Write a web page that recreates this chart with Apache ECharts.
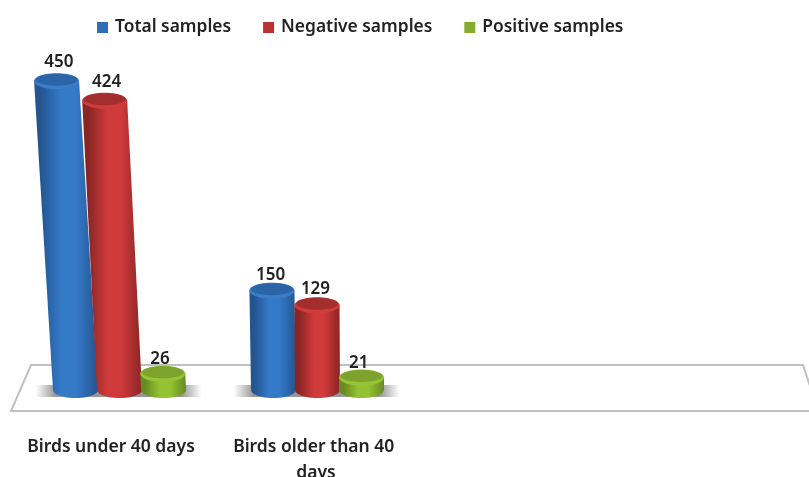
<!DOCTYPE html>
<html><head><meta charset="utf-8">
<style>html,body{margin:0;padding:0;background:#fff}#c{width:809px;height:477px;filter:blur(0.45px)}</style>
<script src="https://cdn.jsdelivr.net/npm/echarts@6/dist/echarts.min.js"></script>
</head><body><div id="c"></div>
<script>
var categories = ['Birds under 40 days', 'Birds older than 40 days', '', ''];
var totalSamples = [450, 150];
var negativeSamples = [424, 129];
var positiveSamples = [26, 21];
var seriesNames = ['Total samples', 'Negative samples', 'Positive samples'];

var FONT = '"Noto Sans", sans-serif';
var palettes = [
  {edge:'#24558f', mid:'#3579c9', capBack:'#2c64a8', capFront:'#3a7dca', legend:'#2f6db5'},
  {edge:'#8a2525', mid:'#d03a3a', capBack:'#a22e2e', capFront:'#d03c3c', legend:'#b83232'},
  {edge:'#668a24', mid:'#93c332', capBack:'#7da32e', capFront:'#96c434', legend:'#84ac2e'}
];
var chart = echarts.init(document.getElementById('c'), null, {renderer:'canvas'});
var BAR_RX = 22.5, CAP_RY = 8, STEP = 44, VANISH_X = 342;

function ellipsePts(cx, cy, rx, ry) {
  var p = [];
  for (var i = 0; i < 48; i++) {
    var a = i / 48 * Math.PI * 2;
    p.push([cx + rx * Math.cos(a), cy + ry * Math.sin(a)]);
  }
  return p;
}
function hGrad(c) {
  return new echarts.graphic.LinearGradient(0, 0, 1, 0, [
    {offset:0, color:c.edge},{offset:.1, color:c.edge},{offset:.42, color:c.mid},
    {offset:.65, color:c.mid},{offset:1, color:c.edge}]);
}
function cylinder(idx) {
  var c = palettes[idx];
  return function (params, api) {
    var base = api.coord([api.value(0), 0]);
    var top = api.coord([api.value(0), api.value(1)]);
    var bx = base[0] + (idx - 1) * STEP, by = base[1] - 1;
    var persp = (VANISH_X - bx);
    var h = (by - top[1]) * (1 + persp * 0.00013);
    var tx = bx - persp * 0.00023 * h, ty = by - h;
    var body = [[tx - BAR_RX, ty], [tx + BAR_RX, ty]];
    for (var i = 0; i <= 24; i++) {
      var a = i / 24 * Math.PI;
      body.push([bx + BAR_RX * Math.cos(a), by + CAP_RY * Math.sin(a)]);
    }
    var rim = ellipsePts(tx, ty + 0.5, BAR_RX, CAP_RY);
    var cap = ellipsePts(tx, ty - 1, BAR_RX - 1.5, CAP_RY - 2);
    return {type:'group', children:[
      {type:'polygon', shape:{points:body}, style:{fill:hGrad(c)}},
      {type:'polygon', shape:{points:rim}, style:{fill:c.capFront}},
      {type:'polygon', shape:{points:cap}, style:{fill:c.capBack}},
      {type:'text', style:{text:String(api.value(1)), x:tx - 3 + h * 0.017, y:ty - 14 - h * 0.013,
        align:'center', verticalAlign:'middle', font:'600 17px ' + FONT, fill:'#222'}, z2:10}
    ]};
  };
}
function shadowItem(params, api) {
  var base = api.coord([api.value(0), 0]);
  var cx = base[0] - 1, w = 83;
  return {type:'rect', shape:{x:cx - w, y:base[1] - 6, width:2 * w, height:12},
    style:{fill:new echarts.graphic.LinearGradient(0, 0, 1, 0, [
      {offset:0, color:'rgba(140,140,140,0)'},{offset:.12, color:'rgba(140,140,140,.9)'},
      {offset:.88, color:'rgba(140,140,140,.9)'},{offset:1, color:'rgba(140,140,140,0)'}])}};
}
function pairs(v) { return v.map(function (d, i) { return [i, d]; }); }
var values = [totalSamples, negativeSamples, positiveSamples];
var series = [{type:'custom', name:'shadow', silent:true, z:1, renderItem:shadowItem,
  encode:{x:0, y:1}, data:pairs(totalSamples)}];
seriesNames.forEach(function (n, i) {
  series.push({type:'custom', name:n, z:2 + i, renderItem:cylinder(i), clip:false,
    itemStyle:{color:palettes[i].legend}, encode:{x:0, y:1}, data:pairs(values[i])});
});
var labelPad = [17, 3, 0, 0];
chart.setOption({
  animation:false,
  backgroundColor:'#fff',
  textStyle:{fontFamily:FONT},
  legend:{data:seriesNames, left:92, top:14, icon:'rect', itemWidth:11, itemHeight:11, itemGap:32,
    textStyle:{fontSize:17.4, fontWeight:600, color:'#222', fontFamily:FONT, padding:[0,0,0,2]}},
  grid:{left:20.5, width:792, top:57.7, height:333.3, outerBoundsMode:'none'},
  xAxis:{type:'category',
    data:categories.map(function (n, i) { return {value:n, textStyle:{padding:[0, labelPad[i], 0, 0]}}; }),
    axisLine:{show:false}, axisTick:{show:false},
    axisLabel:{interval:0, margin:43, width:180, overflow:'break', lineHeight:26,
      fontSize:17.5, fontWeight:600, color:'#222', fontFamily:FONT}},
  yAxis:{type:'value', min:0, max:500, show:false, splitLine:{show:false}},
  graphic:[{type:'polygon', z:0, silent:true, shape:{points:[[31,365],[803,365],[812,392],[812,411],[11,411]]},
    style:{fill:'#fff', stroke:'#c0c0c0', lineWidth:2}}],
  series:series
});
</script></body></html>
